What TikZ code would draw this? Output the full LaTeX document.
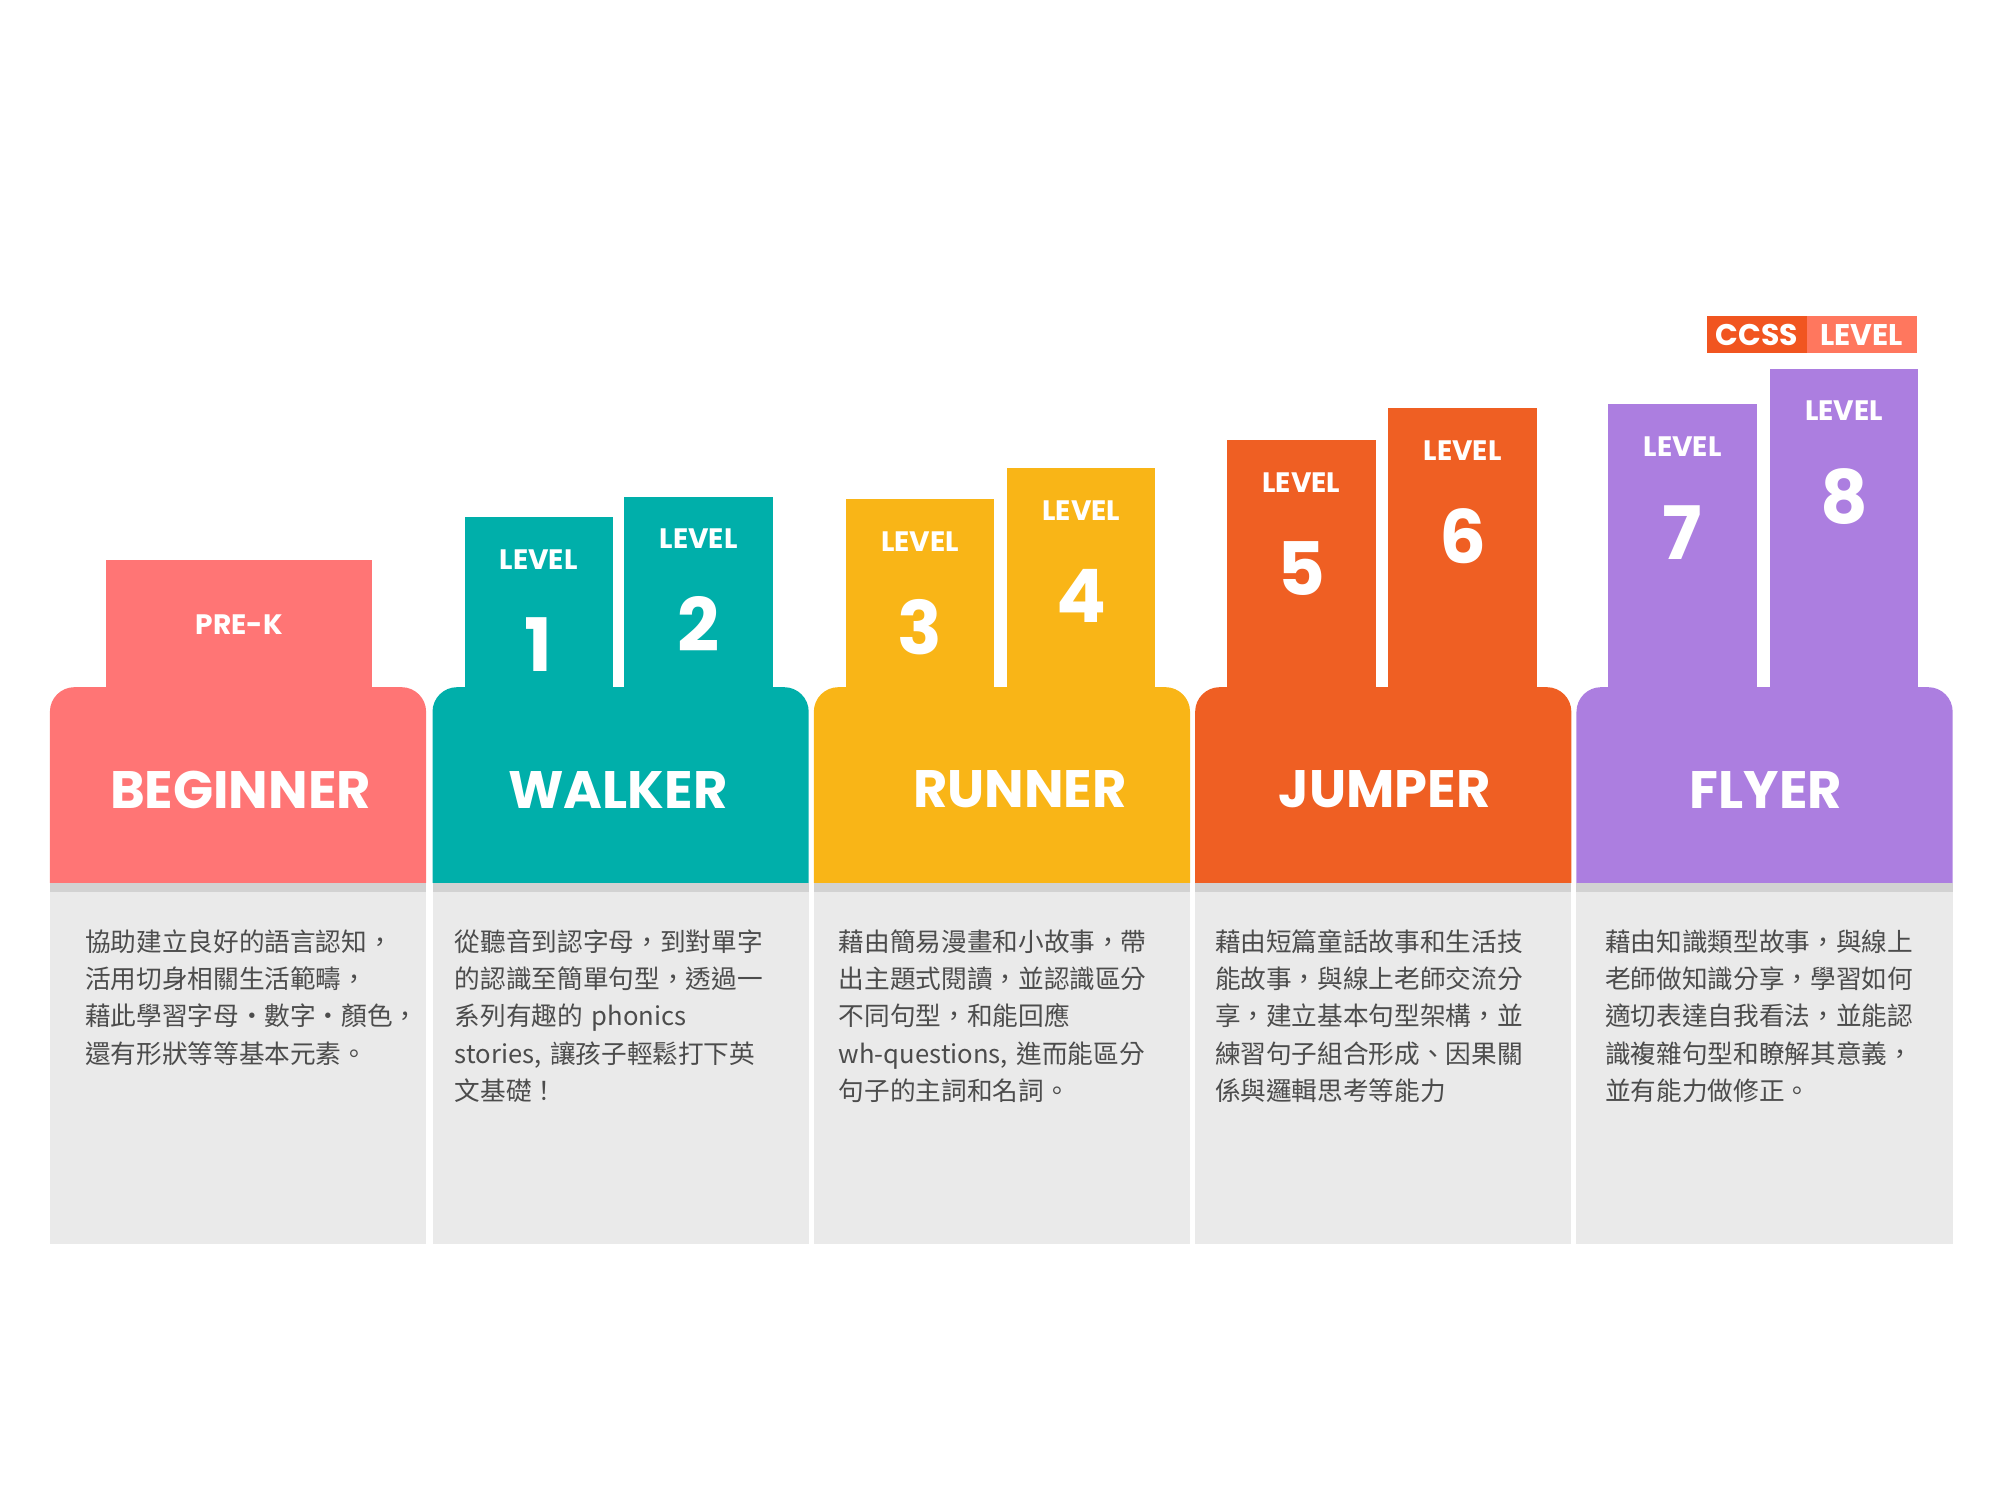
\documentclass[tikz,border=0pt]{standalone}
\usepackage{fontspec}
\setmainfont{Poppins}
\newfontfamily\cjk{Noto Sans CJK TC}
\definecolor{Pink}{HTML}{FF7575}
\definecolor{Teal}{HTML}{00AFAA}
\definecolor{Gold}{HTML}{F9B517}
\definecolor{Tang}{HTML}{EF5F23}
\definecolor{Lilac}{HTML}{AC7EE0}
\definecolor{Body}{HTML}{EAEAEA}
\definecolor{Strip}{HTML}{D2D2D2}
\tikzset{>=latex}
\tikzset{
  head/.style={font=\bfseries\fontsize{15}{15}\selectfont,text=white},
  lvl/.style={font=\bfseries\fontsize{8}{8}\selectfont,text=white},
  num/.style={font=\bfseries\fontsize{21}{21}\selectfont,text=white},
  desc/.style={font=\cjk\fontsize{7.3}{10.6}\selectfont,text=black!70,align=left,text width=3.6cm,anchor=north west,inner sep=0pt}
}
\newcommand\tab[5]{% name, left x, top y, colour, number
  \fill[#4] (#2,#3) rectangle ++(116,537-#3);
  \node[lvl] (#1l) at (#2+58,#3+33) {LEVEL};
  \node[num] (#1n) at (#2+58,#3+100) {#5};
}
\begin{document}
\begin{tikzpicture}[x=0.012796cm,y=-0.012796cm]
  \useasboundingbox (0,0) rectangle (1563,1172);
  % columns
  \foreach \x/\c/\t/\cx [count=\i] in {39/Pink/BEGINNER/188,338/Teal/WALKER/483,636/Gold/RUNNER/797,934/Tang/JUMPER/1082,1232/Lilac/FLYER/1380}{
    \fill[Body] (\x,697) rectangle ++(294,275);
    \fill[Strip] (\x,690) rectangle ++(294,7);
    \fill[\c,rounded corners=7pt] (\x,690) -- (\x,537) -- (\x+294,537) [sharp corners] -- (\x+294,690) -- cycle;
    \node[head] (h\i) at (\cx,617) {\t};
  }
  % tabs
  \fill[Pink] (83,438) rectangle (291,537);
  \node[lvl] (prek) at (187,488) {PRE-K};
  \tab{t1}{363}{404}{Teal}{1}
  \tab{t2}{488}{388}{Teal}{2}
  \tab{t3}{661}{390}{Gold}{3}
  \tab{t4}{787}{366}{Gold}{4}
  \tab{t5}{959}{344}{Tang}{5}
  \tab{t6}{1085}{319}{Tang}{6}
  \tab{t7}{1257}{316}{Lilac}{7}
  \tab{t8}{1383}{288}{Lilac}{8}
  % ccss badge
  \fill[Tang!90!red] (1334,247) rectangle (1412,276);
  \fill[Pink!80!orange] (1412,247) rectangle (1498,276);
  \node[lvl,font=\bfseries\fontsize{8.5}{8.5}\selectfont] (ccss) at (1373,262) {CCSS};
  \node[lvl,font=\bfseries\fontsize{8.5}{8.5}\selectfont] (ccl) at (1455,262) {LEVEL};
  % descriptions
  \node[desc] (d1) at (66,726) {協助建立良好的語言認知，\\活用切身相關生活範疇，\\藉此學習字母‧數字‧顏色，\\還有形狀等等基本元素。};
  \node[desc] (d2) at (355,726) {從聽音到認字母，到對單字\\的認識至簡單句型，透過一\\系列有趣的 phonics\\stories, 讓孩子輕鬆打下英\\文基礎！};
  \node[desc] (d3) at (655,726) {藉由簡易漫畫和小故事，帶\\出主題式閱讀，並認識區分\\不同句型，和能回應\\wh-questions, 進而能區分\\句子的主詞和名詞。};
  \node[desc] (d4) at (949,726) {藉由短篇童話故事和生活技\\能故事，與線上老師交流分\\享，建立基本句型架構，並\\練習句子組合形成、因果關\\係與邏輯思考等能力};
  \node[desc] (d5) at (1254,726) {藉由知識類型故事，與線上\\老師做知識分享，學習如何\\適切表達自我看法，並能認\\識複雜句型和瞭解其意義，\\並有能力做修正。};
\end{tikzpicture}
\end{document}
